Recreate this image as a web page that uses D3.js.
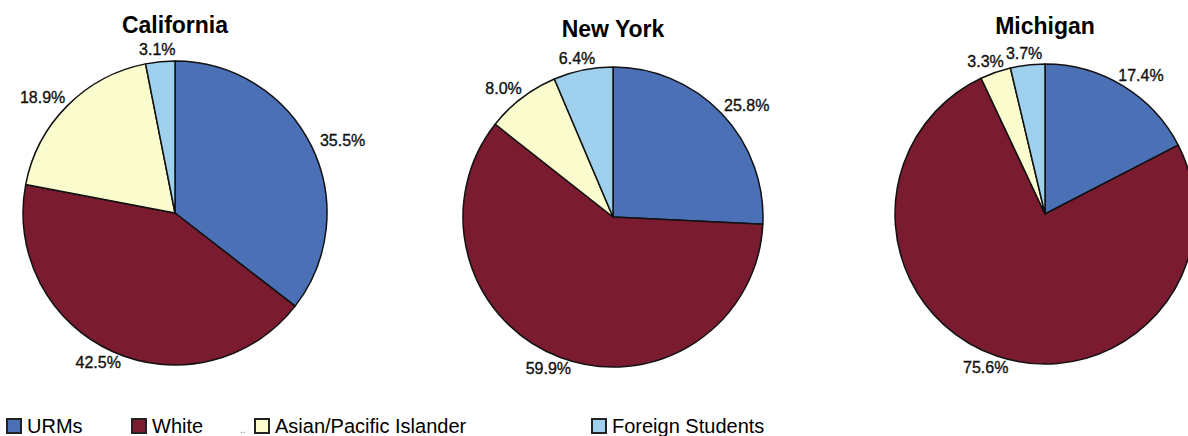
<!DOCTYPE html>
<html>
<head>
<meta charset="utf-8">
<script src="https://cdnjs.cloudflare.com/ajax/libs/d3/7.8.5/d3.min.js"></script>
<style>
body { margin: 0; background: #fff; }
svg { display: block; font-family: "Liberation Sans", Arial, sans-serif; }
</style>
</head>
<body>
<svg width="1188" height="436"></svg>
<script>
// data
var categories = ["URMs", "White", "Asian/Pacific Islander", "Foreign Students"];
var states = ["California", "New York", "Michigan"];
var california = [35.5, 42.5, 18.9, 3.1];
var newYork = [25.8, 59.9, 8.0, 6.4];
var michigan = [17.4, 75.6, 3.3, 3.7];
var colors = ["#4b70b5", "#7a1b30", "#fafccd", "#9fd0ee"];

// layout
var pies = [
  {cx: 175, cy: 213, r: 152},
  {cx: 613, cy: 217, r: 150},
  {cx: 1045, cy: 214, r: 150}
];
var legendX = [7, 132, 255, 592];

var svg = d3.select("svg");
var values = [california, newYork, michigan];
var color = d3.scaleOrdinal().domain(categories).range(colors);
var fmt = d3.format(".1f");

var pie = d3.pie().sort(null).value(function(d) { return d; });

states.forEach(function(name, k) {
  var p = pies[k];
  var arc = d3.arc().innerRadius(0).outerRadius(p.r);
  var g = svg.append("g").attr("transform", "translate(" + p.cx + "," + p.cy + ")");
  var arcs = pie(values[k]);

  g.selectAll("path")
    .data(arcs)
    .enter()
    .append("path")
    .attr("d", arc)
    .attr("fill", function(d, i) { return color(categories[i]); })
    .attr("stroke", "#111")
    .attr("stroke-width", 1.5)
    .attr("stroke-linejoin", "round");

  g.append("text")
    .attr("x", 0)
    .attr("y", -180)
    .attr("text-anchor", "middle")
    .attr("font-size", 23)
    .attr("font-weight", "bold")
    .attr("fill", "#000")
    .text(name);

  // labels just outside the rim, pushed out sideways by their own width
  g.selectAll("text.lbl")
    .data(arcs)
    .enter()
    .append("text")
    .attr("class", "lbl")
    .attr("text-anchor", "middle")
    .attr("dominant-baseline", "central")
    .attr("font-size", 16)
    .attr("fill", "#111")
    .attr("stroke", "#111")
    .attr("stroke-width", 0.35)
    .text(function(d) { return fmt(d.data) + "%"; })
    .each(function(d) {
      var a = (d.startAngle + d.endAngle) / 2;
      var w = this.getComputedTextLength();
      var s = Math.sin(a), c = Math.cos(a);
      var rr = p.r + 8;
      d3.select(this)
        .attr("x", rr * s + (w / 2 + 4) * s)
        .attr("y", -rr * c - 4 * c);
    });
});

// legend
var lg = svg.append("g");
categories.forEach(function(cat, i) {
  lg.append("rect")
    .attr("x", legendX[i])
    .attr("y", 419)
    .attr("width", 14)
    .attr("height", 14)
    .attr("fill", color(cat))
    .attr("stroke", "#222")
    .attr("stroke-width", 2);
  lg.append("text")
    .attr("x", legendX[i] + 20)
    .attr("y", 433)
    .attr("font-size", 20)
    .attr("fill", "#000")
    .text(cat);
});
lg.append("text")
  .attr("x", 240)
  .attr("y", 433)
  .attr("font-size", 10)
  .attr("fill", "#777")
  .text("..");
</script>
</body>
</html>
